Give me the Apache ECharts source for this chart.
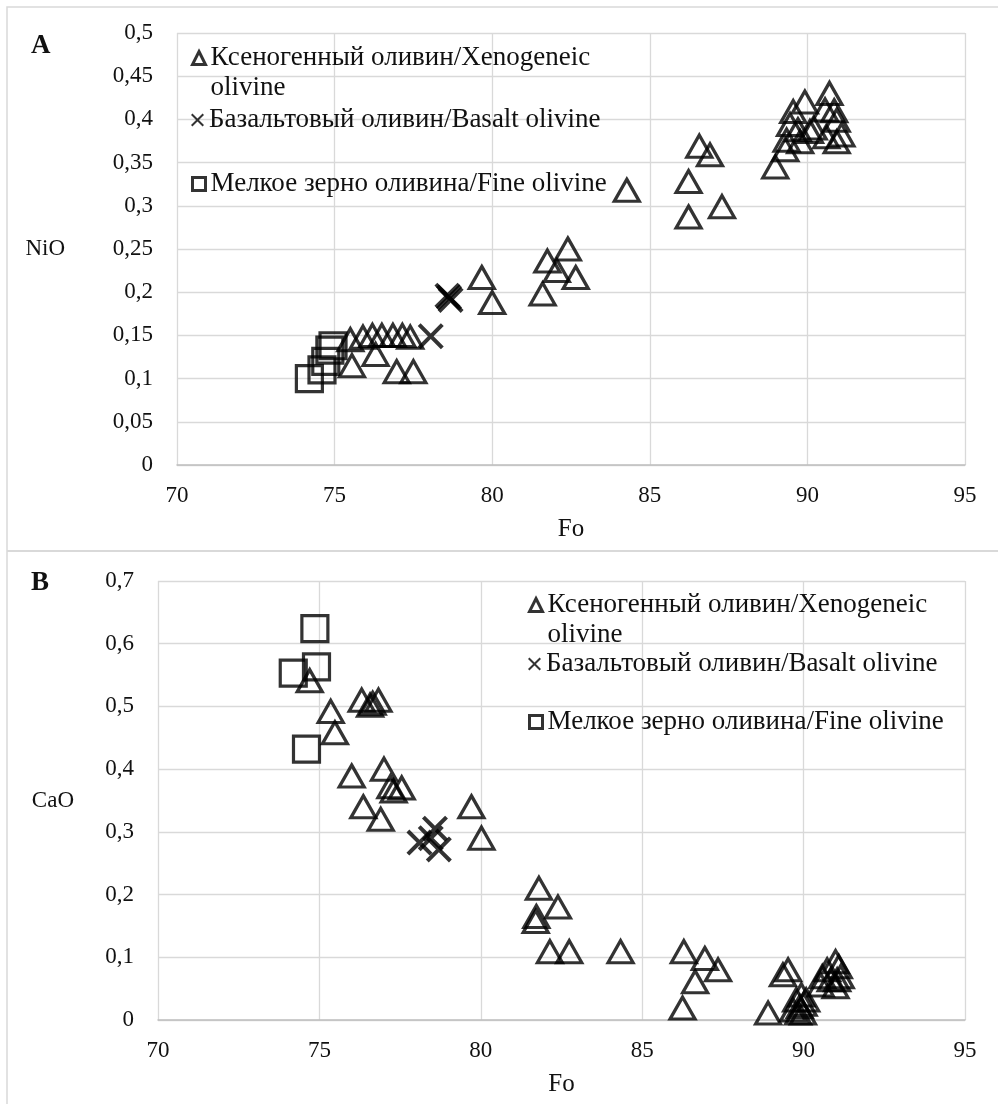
<!DOCTYPE html>
<html><head><meta charset="utf-8">
<script src="https://cdn.jsdelivr.net/npm/echarts/dist/echarts.min.js"></script>
<style>html,body{margin:0;padding:0;background:#fff}#c{width:998px;height:1104px}</style>
</head><body><div id="c"></div>
<script>
// ---- data ----
const NAME_XENO = 'Ксеногенный оливин/Xenogeneic olivine';
const NAME_BAS = 'Базальтовый оливин/Basalt olivine';
const NAME_FINE = 'Мелкое зерно оливина/Fine olivine';
const foTicks = [70, 75, 80, 85, 90, 95];
const niTicks = [0, 0.05, 0.1, 0.15, 0.2, 0.25, 0.3, 0.35, 0.4, 0.45, 0.5];
const caTicks = [0, 0.1, 0.2, 0.3, 0.4, 0.5, 0.6, 0.7];

// Panel A: Fo vs NiO
const xenoA = [
  [75.5,0.145],[75.55,0.115],[75.9,0.148],[76.2,0.15],[76.5,0.15],[76.85,0.15],[77.15,0.15],[77.4,0.148],
  [76.3,0.128],[76.97,0.108],[77.5,0.108],
  [79.67,0.217],[80.0,0.188],[81.6,0.198],[81.75,0.236],[82.05,0.225],[82.4,0.25],[82.65,0.217],
  [84.27,0.318],[86.57,0.369],[86.91,0.359],[86.23,0.328],[86.23,0.287],[87.29,0.299],[88.98,0.345],[89.3,0.365],
  [89.92,0.42],[90.7,0.43],[89.55,0.409],[90.56,0.411],[90.93,0.399],[89.45,0.394],[89.7,0.388],[90.08,0.386],
  [91.08,0.382],[90.6,0.38],[89.34,0.376],[89.77,0.374],[90.93,0.374],[90.2,0.39],[90.85,0.41]
];
const basA = [[78.58,0.196],[78.68,0.191],[78.63,0.194],[78.05,0.149]];
const fineA = [[74.2,0.10],[74.6,0.11],[74.72,0.12],[74.85,0.133],[74.95,0.138]];

// Panel B: Fo vs CaO
const xenoB = [
  [74.7,0.541],[75.35,0.492],[75.48,0.458],[76.31,0.51],[76.57,0.502],[76.83,0.51],[76.65,0.505],
  [76.0,0.389],[77.0,0.4],[77.2,0.372],[77.55,0.37],[77.3,0.365],[76.36,0.34],[76.9,0.32],
  [79.71,0.34],[80.02,0.29],
  [81.8,0.21],[82.39,0.18],[81.72,0.165],[81.7,0.157],[82.14,0.109],[82.74,0.109],[84.33,0.109],
  [86.29,0.109],[86.94,0.098],[87.35,0.08],[86.64,0.061],[86.25,0.019],
  [89.36,0.072],[89.52,0.08],[88.9,0.011],
  [89.77,0.032],[89.88,0.021],[89.98,0.011],[89.67,0.016],[90.08,0.032],[89.83,0.011],[89.93,0.04],[90.0,0.025],
  [90.99,0.093],[91.09,0.085],[90.73,0.08],[90.58,0.069],[91.15,0.069],[90.53,0.056],[90.99,0.053],[91.04,0.064],[90.84,0.064]
];
const basB = [[78.1,0.283],[78.58,0.305],[78.7,0.272],[78.45,0.29]];
const fineB = [[74.86,0.624],[74.91,0.563],[74.19,0.553],[74.6,0.432]];

// ---- styling ----
const FONT = 'Liberation Serif';
const X_PATH = 'path://M0,2.2L2.2,0L10,7.8L17.8,0L20,2.2L12.2,10L20,17.8L17.8,20L10,12.2L2.2,20L0,17.8L7.8,10Z';
const gridColor = '#d9d9d9';
const fmtComma = v => String(Math.round(v * 100) / 100).replace('.', ',');

function xAxisCfg(gi) {
  return {
    type: 'value', gridIndex: gi, min: foTicks[0], max: foTicks[foTicks.length - 1], interval: 5,
    name: 'Fo', nameLocation: 'middle', nameGap: 52,
    nameTextStyle: { fontFamily: FONT, fontSize: 25, color: '#111' },
    axisLine: { show: true, lineStyle: { color: '#bfbfbf', width: 1.5 } },
    axisTick: { show: false },
    axisLabel: { fontFamily: FONT, fontSize: 23, color: '#111', margin: 19 },
    splitLine: { show: true, lineStyle: { color: gridColor, width: 1.3 } }
  };
}
function yAxisCfg(gi, ticks, nm, gap, pad) {
  return {
    type: 'value', gridIndex: gi, min: ticks[0], max: ticks[ticks.length - 1], interval: ticks[1] - ticks[0],
    name: nm, nameLocation: 'middle', nameRotate: 0, nameGap: gap,
    nameTextStyle: { fontFamily: FONT, fontSize: 23, color: '#111', padding: pad },
    axisLine: { show: false }, axisTick: { show: false },
    axisLabel: { fontFamily: FONT, fontSize: 23, color: '#111', margin: 24, formatter: fmtComma },
    splitLine: { show: true, lineStyle: { color: gridColor, width: 1.3 } }
  };
}
const hollow = { color: 'rgba(0,0,0,0)', borderColor: '#000', borderWidth: 3.2 };
function series(gi, name, data, kind) {
  const s = { type: 'scatter', name, data, xAxisIndex: gi, yAxisIndex: gi, emphasis: { disabled: true } };
  if (kind === 'tri') { s.symbol = 'triangle'; s.symbolSize = [25, 22]; s.itemStyle = hollow; }
  if (kind === 'x') { s.symbol = X_PATH; s.symbolSize = 26; s.itemStyle = { color: '#000', borderWidth: 0 }; }
  if (kind === 'sq') { s.symbol = 'rect'; s.symbolSize = 26; s.itemStyle = hollow; }
  return s;
}
function legendItem(name, left, top, kind, text) {
  const lg = {
    data: [name], left, top, orient: 'vertical', itemWidth: 13, itemHeight: 13, selectedMode: false,
    textStyle: { fontFamily: FONT, fontSize: 27, color: '#111', lineHeight: 30 },
    formatter: () => text
  };
  if (kind === 'tri') { lg.icon = 'triangle'; lg.itemStyle = { color: 'rgba(0,0,0,0)', borderColor: '#000', borderWidth: 3 }; }
  if (kind === 'x') { lg.icon = X_PATH; lg.itemStyle = { color: '#000', borderWidth: 0 }; }
  if (kind === 'sq') { lg.icon = 'rect'; lg.itemStyle = { color: 'rgba(0,0,0,0)', borderColor: '#000', borderWidth: 3 }; }
  return lg;
}

const chart = echarts.init(document.getElementById('c'), null, { renderer: 'canvas' });
chart.setOption({
  animation: false,
  backgroundColor: '#fff',
  grid: [
    { left: 177, top: 33, width: 788, height: 432 },
    { left: 158, top: 581, width: 807, height: 439 }
  ],
  xAxis: [xAxisCfg(0), xAxisCfg(1)],
  yAxis: [yAxisCfg(0, niTicks, 'NiO', 112, [0, 0, 0, 0]), yAxisCfg(1, caTicks, 'CaO', 84, [0, 0, 106, 0])],
  legend: [
    legendItem(NAME_XENO, 186, 8, 'tri', '\nКсеногенный оливин/Xenogeneic\nolivine'),
    legendItem(NAME_BAS, 186, 100, 'x', 'Базальтовый оливин/Basalt olivine'),
    legendItem(NAME_FINE, 186, 164, 'sq', 'Мелкое зерно оливина/Fine olivine'),
    legendItem(NAME_XENO, 523, 555, 'tri', '\nКсеногенный оливин/Xenogeneic\nolivine'),
    legendItem(NAME_BAS, 523, 644, 'x', 'Базальтовый оливин/Basalt olivine'),
    legendItem(NAME_FINE, 523, 702, 'sq', 'Мелкое зерно оливина/Fine olivine')
  ],
  graphic: [
    { type: 'rect', shape: { x: 7, y: 7, width: 1000, height: 1200 }, style: { fill: 'none', stroke: '#d9d9d9', lineWidth: 1.5 }, silent: true },
    { type: 'line', shape: { x1: 7, y1: 551, x2: 998, y2: 551 }, style: { stroke: '#d9d9d9', lineWidth: 2 }, silent: true },
    { type: 'text', left: 31, top: 33, style: { text: 'A', fontFamily: FONT, fontSize: 27, fontWeight: 'bold', fill: '#111' } },
    { type: 'text', left: 31, top: 570, style: { text: 'B', fontFamily: FONT, fontSize: 27, fontWeight: 'bold', fill: '#111' } }
  ],
  series: [
    series(0, NAME_XENO, xenoA, 'tri'), series(0, NAME_BAS, basA, 'x'), series(0, NAME_FINE, fineA, 'sq'),
    series(1, NAME_XENO, xenoB, 'tri'), series(1, NAME_BAS, basB, 'x'), series(1, NAME_FINE, fineB, 'sq')
  ]
});
</script></body></html>
